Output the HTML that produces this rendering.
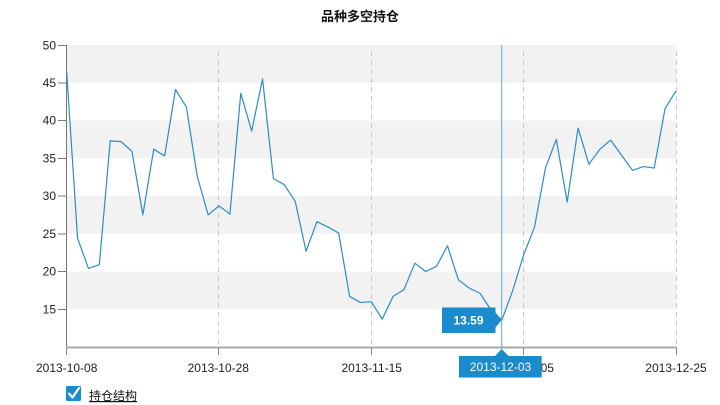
<!DOCTYPE html>
<html>
<head>
<meta charset="utf-8">
<style>
  html,body{margin:0;padding:0;background:#fff;}
  body{width:720px;height:405px;overflow:hidden;}
  svg{display:block;}
  text{font-family:"Liberation Sans","Noto Sans CJK SC",sans-serif;}
</style>
</head>
<body>
<svg width="720" height="405" viewBox="0 0 720 405" xmlns="http://www.w3.org/2000/svg">
  <!-- title -->
  <text x="360" y="21" text-anchor="middle" font-size="13" font-weight="bold" fill="#111">品种多空持仓</text>

  <!-- bands -->
  <rect x="67" y="45" width="609" height="37.75" fill="#f2f2f2"/>
  <rect x="67" y="120.5" width="609" height="37.75" fill="#f2f2f2"/>
  <rect x="67" y="196" width="609" height="37.75" fill="#f2f2f2"/>
  <rect x="67" y="271.5" width="609" height="37.75" fill="#f2f2f2"/>

  <!-- dashed vertical grid -->
  <g stroke="#c8c8c8" stroke-width="1" stroke-dasharray="5,4">
    <line x1="218.5" y1="51" x2="218.5" y2="347"/>
    <line x1="371.5" y1="51" x2="371.5" y2="347"/>
    <line x1="523.5" y1="51" x2="523.5" y2="347"/>
    <line x1="676.5" y1="51" x2="676.5" y2="347"/>
  </g>

  <!-- y axis -->
  <line x1="66.5" y1="45" x2="66.5" y2="348" stroke="#777" stroke-width="1"/>
  <g stroke="#777" stroke-width="1">
    <line x1="58" y1="45.5" x2="66" y2="45.5"/>
    <line x1="58" y1="83" x2="66" y2="83"/>
    <line x1="58" y1="120.5" x2="66" y2="120.5"/>
    <line x1="58" y1="158.5" x2="66" y2="158.5"/>
    <line x1="58" y1="196" x2="66" y2="196"/>
    <line x1="58" y1="234" x2="66" y2="234"/>
    <line x1="58" y1="271.5" x2="66" y2="271.5"/>
    <line x1="58" y1="309.5" x2="66" y2="309.5"/>
  </g>
  <g font-size="12" fill="#222" text-anchor="end">
    <text x="56" y="49.5">50</text>
    <text x="56" y="87">45</text>
    <text x="56" y="124.5">40</text>
    <text x="56" y="162.5">35</text>
    <text x="56" y="200">30</text>
    <text x="56" y="238">25</text>
    <text x="56" y="275.5">20</text>
    <text x="56" y="313.5">15</text>
  </g>

  <!-- x axis -->
  <line x1="66" y1="347.5" x2="677" y2="347.5" stroke="#a8a8a8" stroke-width="2"/>
  <g stroke="#888" stroke-width="1">
    <line x1="66.5" y1="348" x2="66.5" y2="355"/>
    <line x1="218.5" y1="348" x2="218.5" y2="355"/>
    <line x1="371.5" y1="348" x2="371.5" y2="355"/>
    <line x1="523.5" y1="348" x2="523.5" y2="355"/>
    <line x1="676.5" y1="348" x2="676.5" y2="355"/>
  </g>
  <g font-size="12" fill="#222" text-anchor="middle">
    <text x="66.7" y="372">2013-10-08</text>
    <text x="218.3" y="372">2013-10-28</text>
    <text x="371.7" y="372">2013-11-15</text>
    <text x="523.3" y="372">2013-12-05</text>
    <text x="676" y="372">2013-12-25</text>
  </g>

  <!-- series -->
  <polyline fill="none" stroke="#2a8dc5" stroke-width="1.2" stroke-linejoin="round" vector-effect="non-scaling-stroke"
    transform="translate(66.7,45) scale(10.88,-7.55) translate(0,-50)"
    points="0,46.4 1,24.4 2,20.4 3,20.9 4,37.3 5,37.2 6,35.9 7,27.5 8,36.2 9,35.3 10,44.1 11,41.8 12,32.6 13,27.5 14,28.7 15,27.6 16,43.6 17,38.6 18,45.5 19,32.3 20,31.5 21,29.3 22,22.7 23,26.6 24,25.9 25,25.1 26,16.7 27,15.9 28,16.0 29,13.7 30,16.7 31,17.6 32,21.1 33,20.0 34,20.7 35,23.4 36,18.9 37,17.8 38,17.1 39,14.9 40,13.59 41,17.5 42,22.2 43,25.9 44,33.7 45,37.5 46,29.2 47,39.0 48,34.2 49,36.2 50,37.4 51,35.4 52,33.4 53,33.9 54,33.7 55,41.6 56,43.9"/>

  <!-- hover line -->
  <line x1="501.7" y1="45" x2="501.7" y2="349" stroke="#5aaad8" stroke-width="1"/>

  <!-- value tooltip -->
  <polygon points="442,307.5 495.5,307.5 495.5,312.5 501.7,320 495.5,327.5 495.5,333 442,333" fill="#1a8ccd"/>
  <text x="468.5" y="324.5" text-anchor="middle" font-size="12" font-weight="bold" fill="#fff">13.59</text>

  <!-- date tooltip -->
  <polygon points="459,356 495,356 501.7,349 508.5,356 541.7,356 541.7,377.5 459,377.5" fill="#1a8ccd"/>
  <text x="500.5" y="371" text-anchor="middle" font-size="12" fill="#fff">2013-12-03</text>

  <!-- legend -->
  <rect x="66" y="386" width="15" height="15" rx="1.5" fill="#1a8ccd"/>
  <polyline points="69,393.5 72.5,397.5 79,388" fill="none" stroke="#fff" stroke-width="2.2" stroke-linecap="round" stroke-linejoin="round"/>
  <text x="89" y="400" font-size="12" fill="#111" text-decoration="underline">持仓结构</text>
</svg>
</body>
</html>
